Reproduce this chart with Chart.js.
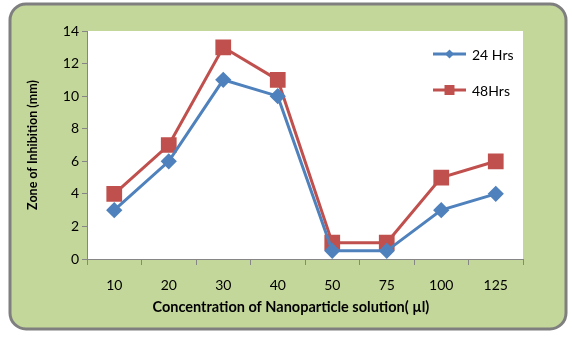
<!DOCTYPE html>
<html>
<head>
<meta charset="utf-8">
<script src="https://cdn.jsdelivr.net/npm/chart.js@4.4.0/dist/chart.umd.min.js"></script>
<style>
  html, body { margin: 0; padding: 0; background: #ffffff; }
  #wrap { width: 572px; height: 353px; position: relative; }
</style>
</head>
<body>
<div id="wrap"><canvas id="chart" width="572" height="353"></canvas></div>
<script>
// values
const categories = ['10', '20', '30', '40', '50', '75', '100', '125'];
const hrs24 = [3, 6, 11, 10, 0.5, 0.5, 3, 4];
const hrs48 = [4, 7, 13, 11, 1, 1, 5, 6];
const yTicks = [0, 2, 4, 6, 8, 10, 12, 14];

const FONT = 'Lato, "Open Sans", sans-serif';
const AXIS_GREY = '#868686';

// green rounded panel behind everything
const panel = {
  id: 'panel',
  beforeDraw(chart) {
    const ctx = chart.ctx;
    const x = 10, y = 4, w = 556, h = 325, r = 16;
    ctx.save();
    ctx.beginPath();
    ctx.moveTo(x + r, y);
    ctx.arcTo(x + w, y, x + w, y + h, r);
    ctx.arcTo(x + w, y + h, x, y + h, r);
    ctx.arcTo(x, y + h, x, y, r);
    ctx.arcTo(x, y, x + w, y, r);
    ctx.closePath();
    ctx.fillStyle = '#c4d79b';
    ctx.fill();
    ctx.lineWidth = 3;
    ctx.strokeStyle = '#7f7f7f';
    ctx.stroke();
    // white plot area
    const a = chart.chartArea;
    ctx.fillStyle = '#ffffff';
    ctx.fillRect(a.left, a.top, a.right - a.left, a.bottom - a.top);
    ctx.restore();
  }
};

// legend drawn inside the plot, top right
const sideLegend = {
  id: 'sideLegend',
  afterDraw(chart) {
    const ctx = chart.ctx;
    ctx.save();
    chart.data.datasets.forEach((ds, i) => {
      const y = 54 + i * 36;
      const x0 = 433, x1 = 466, cx = (x0 + x1) / 2;
      ctx.strokeStyle = ds.borderColor;
      ctx.lineWidth = 3;
      ctx.beginPath();
      ctx.moveTo(x0, y);
      ctx.lineTo(x1, y);
      ctx.stroke();
      ctx.fillStyle = ds.borderColor;
      ctx.beginPath();
      if (ds.pointStyle === 'rect') {
        ctx.rect(cx - 5, y - 5, 10, 10);
      } else {
        ctx.moveTo(cx, y - 4.5);
        ctx.lineTo(cx + 4.5, y);
        ctx.lineTo(cx, y + 4.5);
        ctx.lineTo(cx - 4.5, y);
        ctx.closePath();
      }
      ctx.fill();
      ctx.fillStyle = '#000000';
      ctx.font = '14px ' + FONT;
      ctx.textBaseline = 'middle';
      ctx.textAlign = 'left';
      ctx.fillText(ds.label, 472, y + 1);
    });
    ctx.restore();
  }
};

new Chart(document.getElementById('chart'), {
  type: 'line',
  data: {
    labels: categories,
    datasets: [
      {
        label: '24 Hrs',
        data: hrs24,
        borderColor: '#4f81bd',
        backgroundColor: '#4f81bd',
        borderWidth: 3,
        pointStyle: 'rectRot',
        pointRadius: 6,
        pointHoverRadius: 6,
        tension: 0
      },
      {
        label: '48Hrs',
        data: hrs48,
        borderColor: '#c0504d',
        backgroundColor: '#c0504d',
        borderWidth: 3,
        pointStyle: 'rect',
        pointRadius: 9,
        pointHoverRadius: 9,
        tension: 0
      }
    ]
  },
  options: {
    responsive: false,
    animation: false,
    devicePixelRatio: 1,
    layout: { padding: { top: 31, right: 49, left: 0, bottom: 0 } },
    plugins: {
      legend: { display: false },
      tooltip: { enabled: false }
    },
    scales: {
      x: {
        offset: true,
        grid: {
          offset: true,
          drawOnChartArea: false,
          drawTicks: true,
          tickLength: 6,
          color: AXIS_GREY
        },
        border: { display: true, color: AXIS_GREY, width: 1 },
        ticks: { color: '#000000', font: { family: FONT, size: 14 }, padding: 12, maxRotation: 0, autoSkip: false },
        title: {
          display: true,
          // trailing no-break spaces nudge the centred title left, as in the original
          text: 'Concentration of Nanoparticle solution( µl)\u00a0\u00a0\u00a0\u00a0\u00a0\u00a0\u00a0\u00a0',
          color: '#000000',
          font: { family: FONT, size: 14.5, weight: 'bold' },
          padding: { top: 0, bottom: 37 }
        },
        afterFit(scale) { scale.height = 94; }
      },
      y: {
        min: 0,
        max: 14,
        afterBuildTicks(scale) { scale.ticks = yTicks.map(v => ({ value: v })); },
        grid: {
          drawOnChartArea: false,
          drawTicks: true,
          tickLength: 5,
          color: AXIS_GREY
        },
        border: { display: true, color: AXIS_GREY, width: 1 },
        ticks: { color: '#000000', font: { family: FONT, size: 14 }, padding: 3 },
        title: {
          display: true,
          text: 'Zone of Inhibition (mm)',
          color: '#000000',
          font: { family: FONT, size: 12.5, weight: 'bold' },
          padding: { top: 25, bottom: 0 }
        },
        afterFit(scale) { scale.width = 87; }
      }
    }
  },
  plugins: [panel, sideLegend]
});
</script>
</body>
</html>
